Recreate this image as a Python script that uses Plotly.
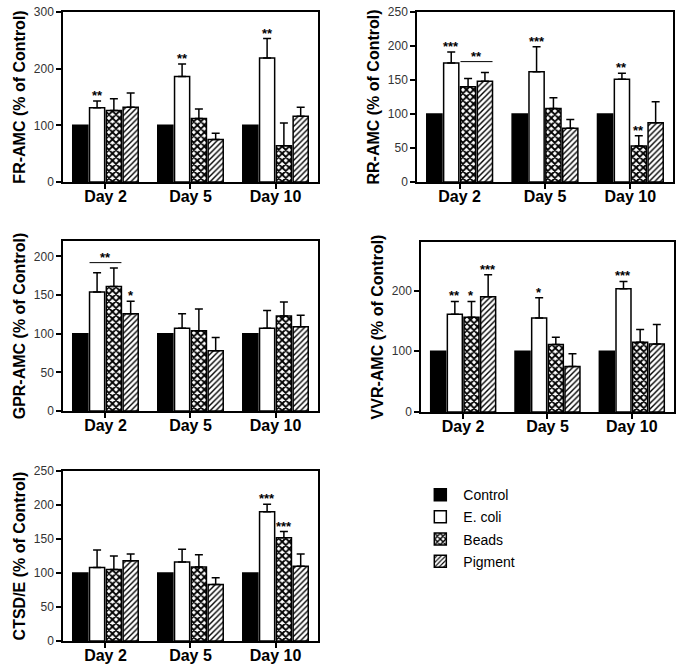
"""
Protease activity panels (% of control) by treatment and day, grouped bars
with upward error bars and significance stars.
"""
import plotly.graph_objects as go

DAYS = ["Day 2", "Day 5", "Day 10"]
GROUPS = ["Control", "E. coli", "Beads", "Pigment"]

# means per group (rows follow GROUPS), columns follow DAYS
FR_MEAN = [[100, 100, 100], [131, 186, 219], [126, 112, 64], [132, 75, 116]]
FR_ERR = [[0, 0, 0], [12, 22, 34], [21, 17, 40], [25, 11, 16]]
RR_MEAN = [[100, 100, 100], [175, 162, 151], [140, 108, 53], [148, 79, 87]]
RR_ERR = [[0, 0, 0], [16, 37, 9], [12, 16, 15], [13, 13, 31]]
GPR_MEAN = [[100, 100, 100], [154, 107, 107], [161, 104, 123], [126, 78, 109]]
GPR_ERR = [[0, 0, 0], [25, 19, 23], [24, 28, 18], [16, 17, 15]]
VVR_MEAN = [[100, 100, 100], [161, 155, 203], [156, 111, 115], [190, 75, 112]]
VVR_ERR = [[0, 0, 0], [21, 33, 12], [26, 12, 21], [36, 21, 32]]
CTSD_MEAN = [[100, 100, 100], [108, 116, 190], [105, 109, 152], [118, 83, 110]]
CTSD_ERR = [[0, 0, 0], [26, 19, 11], [20, 18, 9], [10, 10, 18]]

# (group index, day index, label) -> star sits above that bar's error bar
FR_STARS = [(1, 0, "**"), (1, 1, "**"), (1, 2, "**")]
RR_STARS = [(1, 0, "***"), (1, 1, "***"), (1, 2, "**"), (2, 2, "**")]
GPR_STARS = [(3, 0, "*")]
VVR_STARS = [(1, 0, "**"), (2, 0, "*"), (3, 0, "***"), (1, 1, "*"), (1, 2, "***")]
CTSD_STARS = [(1, 2, "***"), (2, 2, "***")]

# (first group, last group, day index, y level, label) -> bracket line with stars
RR_BRACKETS = [(2, 3, 0, 177, "**")]
GPR_BRACKETS = [(1, 2, 0, 192, "**")]

PANELS = [
    dict(title="FR-AMC (% of Control)", mean=FR_MEAN, err=FR_ERR, stars=FR_STARS,
         brackets=[], yrange=[0, 300], dtick=100,
         xdom=[0.0922, 0.4656], ydom=[0.7284, 0.9821]),
    dict(title="RR-AMC (% of Control)", mean=RR_MEAN, err=RR_ERR, stars=RR_STARS,
         brackets=RR_BRACKETS, yrange=[0, 250], dtick=50,
         xdom=[0.6105, 0.9854], ydom=[0.7284, 0.9821]),
    dict(title="GPR-AMC (% of Control)", mean=GPR_MEAN, err=GPR_ERR, stars=GPR_STARS,
         brackets=GPR_BRACKETS, yrange=[0, 220], dtick=50,
         xdom=[0.0922, 0.4656], ydom=[0.3866, 0.6403]),
    dict(title="VVR-AMC (% of Control)", mean=VVR_MEAN, err=VVR_ERR, stars=VVR_STARS,
         brackets=[], yrange=[0, 280], dtick=100,
         xdom=[0.6164, 0.9868], ydom=[0.3851, 0.6388]),
    dict(title="CTSD/E (% of Control)", mean=CTSD_MEAN, err=CTSD_ERR, stars=CTSD_STARS,
         brackets=[], yrange=[0, 250], dtick=50,
         xdom=[0.0922, 0.4656], ydom=[0.0433, 0.2970]),
]

FONT = "Liberation Sans, Arial, Helvetica, sans-serif"
BARGAP = 0.21
GROUPGAP = 0.10
SLOT = (1 - BARGAP) / len(GROUPS)
HALF_BAR = SLOT * (1 - GROUPGAP) / 2


def _marker(gi):
    line = dict(color="black", width=1.5)
    if gi == 0:
        return dict(color="black", line=line)
    if gi == 1:
        return dict(color="white", line=line)
    if gi == 2:
        return dict(color="white", line=line,
                    pattern=dict(shape="x", fgcolor="black", bgcolor="white",
                                 size=5, solidity=0.6, fillmode="replace"))
    return dict(color="white", line=line,
                pattern=dict(shape="/", fgcolor="black", bgcolor="white",
                             size=4, solidity=0.35, fillmode="replace"))


def _bar_x(gi, di):
    return di + (gi - (len(GROUPS) - 1) / 2) * SLOT


fig = go.Figure()
annotations = []
shapes = []

for pi, p in enumerate(PANELS, start=1):
    xa = "x" if pi == 1 else f"x{pi}"
    ya = "y" if pi == 1 else f"y{pi}"
    for gi, name in enumerate(GROUPS):
        fig.add_trace(go.Bar(
            x=DAYS, y=p["mean"][gi], name=name,
            xaxis=xa, yaxis=ya,
            legendgroup=name, showlegend=(pi == 1),
            marker=_marker(gi),
            error_y=dict(type="data", array=p["err"][gi], arrayminus=[0] * len(DAYS),
                         symmetric=False, color="black", thickness=1.5, width=4,
                         visible=(gi != 0)),
        ))

    for gi, di, label in p["stars"]:
        annotations.append(dict(
            x=_bar_x(gi, di), y=p["mean"][gi][di] + p["err"][gi][di],
            xref=xa, yref=ya, text=label, showarrow=False,
            yanchor="bottom", yshift=-4,
            font=dict(family=FONT, size=13, color="black", weight="bold"),
        ))

    for g0, g1, di, yv, label in p["brackets"]:
        shapes.append(dict(
            type="line", xref=xa, yref=ya,
            x0=_bar_x(g0, di) - HALF_BAR, x1=_bar_x(g1, di) + HALF_BAR,
            y0=yv, y1=yv, line=dict(color="black", width=1),
        ))
        annotations.append(dict(
            x=(_bar_x(g0, di) + _bar_x(g1, di)) / 2, y=yv,
            xref=xa, yref=ya, text=label, showarrow=False,
            yanchor="bottom", yshift=-4,
            font=dict(family=FONT, size=13, color="black", weight="bold"),
        ))

    key = "" if pi == 1 else str(pi)
    fig.update_layout({
        f"xaxis{key}": dict(
            domain=p["xdom"], anchor=ya, type="category", automargin=False,
            showline=True, linecolor="black", linewidth=1.5, mirror=True,
            ticks="outside", ticklen=5, tickcolor="black", tickwidth=1.5,
            ticklabelstandoff=-6,
            tickfont=dict(family=FONT, size=16, color="black", weight="bold"),
            showgrid=False, zeroline=False,
        ),
        f"yaxis{key}": dict(
            domain=p["ydom"], anchor=xa, range=p["yrange"], dtick=p["dtick"],
            automargin=False,
            showline=True, linecolor="black", linewidth=1.5, mirror=True,
            ticks="outside", ticklen=5, tickcolor="black", tickwidth=1.5,
            tickfont=dict(family=FONT, size=12, color="#333"),
            title=dict(text=p["title"], standoff=4,
                       font=dict(family=FONT, size=16, color="black", weight="bold")),
            showgrid=False, zeroline=False,
        ),
    })

fig.update_layout(
    width=683, height=670,
    margin=dict(l=0, r=0, t=0, b=0),
    paper_bgcolor="white", plot_bgcolor="white",
    barmode="group", bargap=BARGAP, bargroupgap=GROUPGAP,
    font=dict(family=FONT, color="black"),
    annotations=annotations, shapes=shapes,
    legend=dict(x=0.611, y=0.285, xanchor="left", yanchor="top",
                font=dict(family=FONT, size=14, color="black"),
                itemwidth=36, tracegroupgap=1, bgcolor="rgba(0,0,0,0)"),
)

# drop the browser's default 8px body margin so the figure sits at (0, 0)
fig.write_html("out.html", config={"displayModeBar": False},
               post_script="document.body.style.margin = '0';")
